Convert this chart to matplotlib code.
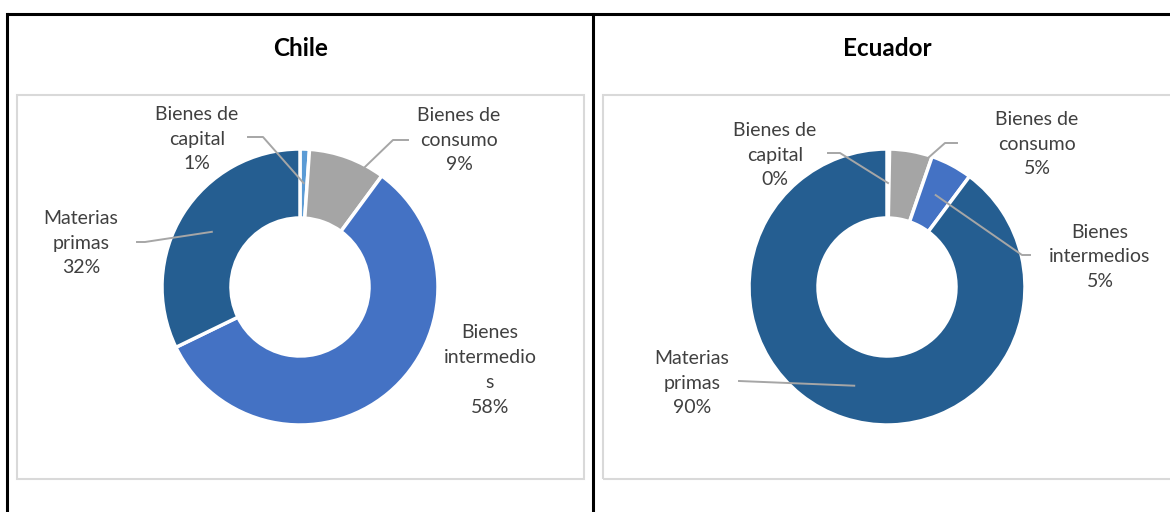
import matplotlib
matplotlib.use("Agg")
import matplotlib.pyplot as plt
import numpy as np
from matplotlib.patches import Rectangle

plt.rcParams['font.family'] = ['Lato', 'DejaVu Sans']

# data (share of imports, %)
categories = ['Bienes de capital', 'Bienes de consumo', 'Bienes intermedios', 'Materias primas']
chile_vals = [1.1, 9.0, 57.7, 32.2]
ecuador_vals = [0.3, 5.0, 4.9, 89.8]
chile_labels = ['Bienes de\ncapital\n1%', 'Bienes de\nconsumo\n9%', 'Bienes\nintermedio\ns\n58%', 'Materias\nprimas\n32%']
ecuador_labels = ['Bienes de\ncapital\n0%', 'Bienes de\nconsumo\n5%', 'Bienes\nintermedios\n5%', 'Materias\nprimas\n90%']
colors = ['#5B9BD5', '#A5A5A5', '#4472C4', '#255E91']

W, H = 1170, 512
fig = plt.figure(figsize=(W / 100, H / 100), dpi=100)
ax = fig.add_axes([0, 0, 1, 1])
ax.axis('off')

TXT = '#404040'
LEAD = '#A6A6A6'
R_OUT, R_IN = 138, 69


def Y(y):
    # pixel rows counted from the top
    return H - y


# table frame
ax.plot([7, W], [Y(14), Y(14)], color='black', lw=2.2, solid_capstyle='butt')
ax.plot([7, 7], [Y(14), 0], color='black', lw=2.2)
ax.plot([593, 593], [Y(14), 0], color='black', lw=2.2)

# chart area borders
for x0, x1 in [(17, 584), (603, W + 5)]:
    ax.add_patch(Rectangle((x0, Y(479)), x1 - x0, 479 - 95, fill=False,
                           edgecolor='#D9D9D9', lw=1.5))


def donut(vals, labels, cx, cy, title, tx, label_pos, leaders):
    ax.text(tx, Y(48), title, ha='center', va='center', fontsize=17.5,
            fontweight='bold', color='black')
    wedges, _ = ax.pie(vals, colors=colors, startangle=90, counterclock=False,
                       center=(cx, Y(cy)), radius=R_OUT,
                       wedgeprops=dict(width=R_OUT - R_IN, edgecolor='white', linewidth=2.5))
    cum = np.cumsum([0] + vals) / sum(vals)
    for i, (lab, (lx, ly)) in enumerate(zip(labels, label_pos)):
        ax.text(lx, Y(ly), lab, ha='center', va='center', fontsize=14,
                color=TXT, linespacing=1.55)
        lead = leaders[i]
        if lead is None:
            continue
        pts, r, shift = lead
        mid = ((cum[i] + cum[i + 1]) / 2 + shift) * 2 * np.pi
        axp = cx + r * np.sin(mid)
        ayp = Y(cy) + r * np.cos(mid)
        xs = [p[0] for p in pts] + [axp]
        ys = [Y(p[1]) for p in pts] + [ayp]
        ax.plot(xs, ys, color=LEAD, lw=1.4)


donut(chile_vals, chile_labels, 300, 287, 'Chile', 301,
      [(197, 139), (459, 140), (490, 370), (81, 243)],
      [([(248, 137), (263, 137)], 104, 0),
       ([(408, 140), (393, 140)], 134, 0.022),
       None,
       ([(137, 242), (145, 242)], 104, 0)])

donut(ecuador_vals, ecuador_labels, 887, 287, 'Ecuador', 887,
      [(775, 155), (1037, 144), (1100, 257), (692, 383)],
      [([(828, 153), (840, 153)], 104, 0),
       ([(957, 143), (945, 143)], 134, 0.02),
       ([(1030, 255), (1022, 255)], 104, 0),
       ([(739, 381)], 104, 0)])

ax.set_xlim(0, W)
ax.set_ylim(0, H)
ax.set_aspect('auto')

fig.savefig('out.png', dpi=100, facecolor='white')
